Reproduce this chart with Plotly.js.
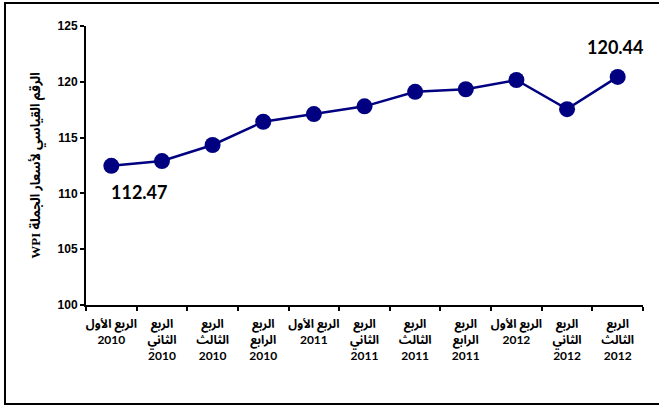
<!DOCTYPE html>
<html>
<head>
<meta charset="utf-8">
<script src="https://cdn.plot.ly/plotly-3.0.1.min.js"></script>
<style>html,body{margin:0;padding:0;background:#fff;}#chart{width:659px;height:407px;}</style>
</head>
<body>
<div id="chart"></div>
<script>
const categories = [
  "الربع الأول<br>2010",
  "الربع<br>الثاني<br>2010",
  "الربع<br>الثالث<br>2010",
  "الربع<br>الرابع<br>2010",
  "الربع الأول<br>2011",
  "الربع<br>الثاني<br>2011",
  "الربع<br>الثالث<br>2011",
  "الربع<br>الرابع<br>2011",
  "الربع الأول<br>2012",
  "الربع<br>الثاني<br>2012",
  "الربع<br>الثالث<br>2012"
];
const wpiValues = [112.47, 112.9, 114.34, 116.42, 117.11, 117.8, 119.1, 119.33, 120.16, 117.55, 120.44];
const yTickValues = [100, 105, 110, 115, 120, 125];
const yTitle = "WPI الرقم القياسي لأسعار الجملة";

const bold = s => '<b>' + s.split('<br>').join('</b><br><b>') + '</b>';

const trace = {
  type: 'scatter',
  mode: 'lines+markers',
  x: categories,
  y: wpiValues,
  line: {color: '#000080', width: 2.5},
  marker: {color: '#000080', size: 16},
  hoverinfo: 'skip'
};

const firstIdx = 0, lastIdx = wpiValues.length - 1;
const annotations = [
  {x: categories[firstIdx], y: wpiValues[firstIdx], text: bold(wpiValues[firstIdx].toFixed(2)),
   showarrow: false, xshift: 28, yshift: -26, font: {family: 'Lato', size: 18, color: '#000'}},
  {x: categories[lastIdx], y: wpiValues[lastIdx], text: bold(wpiValues[lastIdx].toFixed(2)),
   showarrow: false, xshift: -3, yshift: 30, font: {family: 'Lato', size: 18, color: '#000'}}
];

const layout = {
  width: 659, height: 407,
  margin: {l: 86, r: 16, t: 26, b: 102},
  paper_bgcolor: '#fff', plot_bgcolor: '#fff',
  showlegend: false,
  xaxis: {
    type: 'category',
    tickson: 'boundaries',
    tickvals: categories,
    ticktext: categories.map(bold),
    ticks: 'outside', ticklen: 4, tickwidth: 2, tickcolor: '#000',
    ticklabelstandoff: 7,
    showline: true, linecolor: '#000', linewidth: 2,
    showgrid: false, zeroline: false,
    tickangle: 0,
    tickfont: {family: 'Lato, Noto Sans Arabic, DejaVu Sans', size: 12, color: '#000'},
    range: [-0.5, 10.5], fixedrange: true
  },
  yaxis: {
    range: [100, 125],
    tickvals: yTickValues,
    ticktext: yTickValues.map(v => bold(String(v))),
    ticks: 'outside', ticklen: 4, tickwidth: 2, tickcolor: '#000',
    showline: true, linecolor: '#000', linewidth: 2,
    showgrid: false, zeroline: false,
    tickfont: {family: 'Liberation Sans', size: 12, color: '#000'},
    title: {text: bold(yTitle), standoff: 14, font: {family: 'Liberation Serif, Noto Sans Arabic, DejaVu Sans', size: 13, color: '#000'}},
    fixedrange: true
  },
  annotations: annotations,
  shapes: [{
    type: 'rect', xref: 'paper', yref: 'paper',
    x0: (5 - 86) / 557, x1: (670 - 86) / 557,
    y0: (305 - 404) / 279, y1: (305 - 3) / 279,
    line: {color: '#000', width: 2}, fillcolor: 'rgba(0,0,0,0)', layer: 'below'
  }]
};

Plotly.newPlot('chart', [trace], layout, {displayModeBar: false, staticPlot: true});
</script>
</body>
</html>
